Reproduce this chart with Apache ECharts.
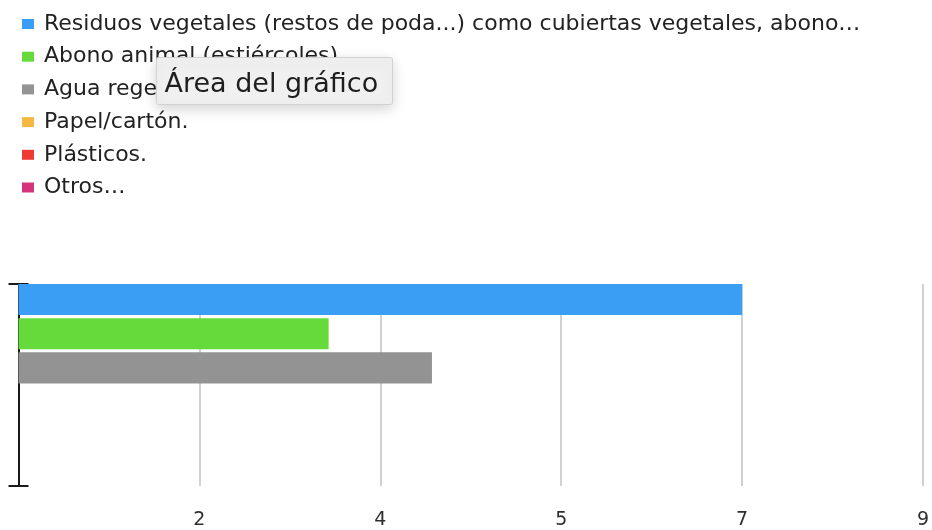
<!DOCTYPE html>
<html>
<head>
<meta charset="utf-8">
<script src="https://cdn.jsdelivr.net/npm/echarts@6/dist/echarts.min.js"></script>
<style>
html,body{margin:0;padding:0;background:#fff;}
#chart{width:932px;height:530px;}
</style>
</head>
<body>
<div id="chart"></div>
<script>
const categories = [''];
const seriesNames = [
  'Residuos vegetales (restos de poda...) como cubiertas vegetales, abono…',
  'Abono animal (estiércoles).',
  'Agua regenerada.',
  'Papel/cartón.',
  'Plásticos.',
  'Otros…'
];
const seriesValues = [7, 3, 4, 0, 0, 0];
const seriesColors = ['#3a9ff4', '#66d93b', '#939393', '#f5b842', '#ee3a35', '#d4357a'];
const axisMax = 8.75;
const axisStep = 1.75;

const chart = echarts.init(document.getElementById('chart'), null, {renderer: 'canvas'});
const font = '"DejaVu Sans", Verdana, sans-serif';

const option = {
  animation: false,
  backgroundColor: '#fff',
  textStyle: {fontFamily: font},
  legend: {
    orient: 'vertical',
    left: 17,
    top: 8,
    itemWidth: 12,
    itemHeight: 10,
    itemGap: 10.7,
    icon: 'rect',
    selectedMode: false,
    textStyle: {fontFamily: font, fontSize: 22, lineHeight: 22, color: '#222', padding: [0, 0, 0, 5]},
    data: seriesNames
  },
  grid: {left: 18.5, right: 8, top: 284, bottom: 44, containLabel: false},
  xAxis: {
    type: 'value',
    min: 0,
    max: axisMax,
    interval: axisStep,
    axisLine: {show: false},
    axisTick: {show: false},
    splitLine: {show: true, lineStyle: {color: '#c2c2c2', width: 1.5}},
    axisLabel: {
      fontFamily: font,
      fontSize: 19,
      color: '#2e2e2e',
      margin: 25,
      formatter: function (v) { return v === 0 ? '' : String(Math.round(v)); }
    }
  },
  yAxis: [
    {
      type: 'category',
      data: categories,
      inverse: true,
      position: 'left',
      axisLine: {show: true, lineStyle: {color: '#1a1a1a', width: 2}},
      axisTick: {show: true, length: 10, lineStyle: {color: '#1a1a1a', width: 2}},
      axisLabel: {show: false},
      splitLine: {show: false}
    },
    {
      type: 'category',
      data: categories,
      inverse: true,
      position: 'left',
      offset: 0,
      axisLine: {show: false},
      axisTick: {show: true, inside: true, length: 10, lineStyle: {color: '#1a1a1a', width: 2}},
      axisLabel: {show: false},
      splitLine: {show: false}
    }
  ],
  series: seriesNames.map(function (name, i) {
    return {
      name: name,
      type: 'bar',
      yAxisIndex: 0,
      data: [seriesValues[i]],
      barCategoryGap: '0%',
      barGap: '10%',
      itemStyle: {color: seriesColors[i]},
      z: 1
    };
  }),
  graphic: [
    {
      type: 'group',
      left: 156,
      top: 57,
      z: 100,
      zlevel: 5,
      children: [
        {
          type: 'rect',
          z: 100,
          zlevel: 5,
          shape: {x: 0, y: 0, width: 236, height: 47, r: 2},
          style: {
            fill: '#f0f0f0',
            stroke: '#d2d2d2',
            lineWidth: 1,
            shadowBlur: 14,
            shadowColor: 'rgba(0,0,0,0.18)',
            shadowOffsetY: 4
          }
        },
        {
          type: 'text',
          z: 101,
          zlevel: 5,
          x: 8,
          y: 27,
          style: {
            text: 'Área del gráfico',
            font: '27px ' + font,
            fill: '#1e1e1e',
            verticalAlign: 'middle'
          }
        }
      ]
    }
  ]
};
chart.setOption(option);
</script>
</body>
</html>
